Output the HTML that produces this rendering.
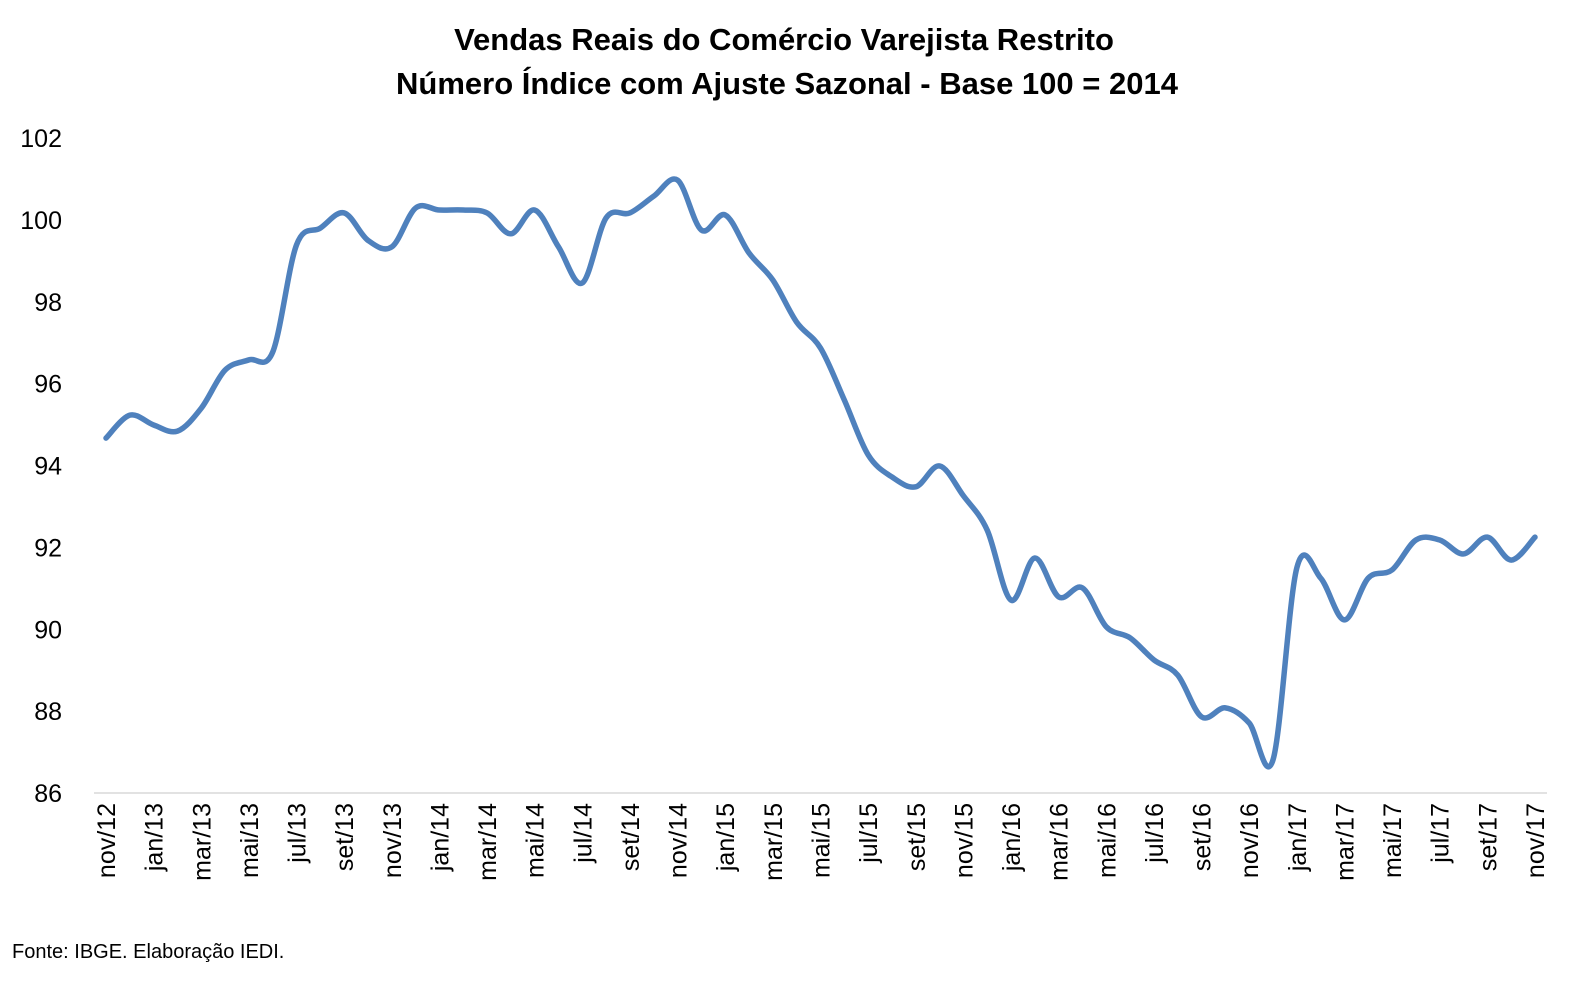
<!DOCTYPE html>
<html><head><meta charset="utf-8"><style>
body{margin:0;background:#fff;}
svg{display:block;font-family:"Liberation Sans",sans-serif;}
</style></head><body>
<svg id="chart" width="1582" height="986">
<text x="784" y="50" text-anchor="middle" font-size="31" font-weight="bold" fill="#000">Vendas Reais do Comércio Varejista Restrito</text>
<text x="787" y="94" text-anchor="middle" font-size="31" font-weight="bold" fill="#000">Número Índice com Ajuste Sazonal - Base 100 = 2014</text>
<g id="yaxis"></g>
<g id="xaxis"></g>
<line x1="94" y1="793" x2="1547" y2="793" stroke="#d9d9d9" stroke-width="1.5"/>
<path id="series" fill="none" stroke="#4f81bd" stroke-width="5.5" stroke-linecap="round" stroke-linejoin="round"/>
<text x="12" y="958" font-size="20" fill="#000">Fonte: IBGE. Elaboração IEDI.</text>
</svg>
<script>
const months = ["nov","dez","jan","fev","mar","abr","mai","jun","jul","ago","set","out"];
const values = [94.67,95.23,94.99,94.84,95.4,96.33,96.58,96.77,99.39,99.8,100.17,99.5,99.34,100.29,100.24,100.24,100.17,99.66,100.24,99.34,98.46,100.05,100.17,100.58,100.97,99.75,100.12,99.19,98.53,97.5,96.87,95.6,94.26,93.72,93.48,93.99,93.26,92.42,90.71,91.74,90.79,91.01,90.06,89.79,89.25,88.88,87.86,88.08,87.71,86.81,91.5,91.25,90.23,91.25,91.45,92.18,92.18,91.84,92.25,91.69,92.25];
const yTicks = [86,88,90,92,94,96,98,100,102];
const NS = "http://www.w3.org/2000/svg";
const x0 = 106, x1 = 1535, yTop = 138, yBot = 793, vMin = 86, vMax = 102;
function xs(i){ return x0 + (x1 - x0) * i / (values.length - 1); }
function ys(v){ return yBot - (v - vMin) / (vMax - vMin) * (yBot - yTop); }
function label(i){ const m = (10 + i) % 12; const yr = 12 + Math.floor((10 + i) / 12); return months[(m + 2) % 12] + "/" + yr; }
const yg = document.getElementById("yaxis");
yTicks.forEach(t => {
  const tx = document.createElementNS(NS, "text");
  tx.setAttribute("x", 62); tx.setAttribute("y", ys(t) + 9);
  tx.setAttribute("text-anchor", "end"); tx.setAttribute("font-size", "25");
  tx.textContent = t;
  
  
  yg.appendChild(tx);
});
const xg = document.getElementById("xaxis");
for (let i = 0; i < values.length; i += 2) {
  const tx = document.createElementNS(NS, "text");
  const x = xs(i) + 9, y = 803;
  tx.setAttribute("transform", "translate(" + x + "," + y + ") rotate(-90)");
  tx.setAttribute("text-anchor", "end"); tx.setAttribute("font-size", "25");
  tx.textContent = label(i);
  
  
  xg.appendChild(tx);
}
const pts = values.map((v, i) => [xs(i), ys(v)]);
let d = "M" + pts[0][0] + "," + pts[0][1];
for (let i = 0; i < pts.length - 1; i++) {
  const p0 = pts[Math.max(i - 1, 0)], p1 = pts[i], p2 = pts[i + 1], p3 = pts[Math.min(i + 2, pts.length - 1)];
  const k = 1 / 6;
  const c1 = [p1[0] + (p2[0] - p0[0]) * k, p1[1] + (p2[1] - p0[1]) * k];
  const c2 = [p2[0] - (p3[0] - p1[0]) * k, p2[1] - (p3[1] - p1[1]) * k];
  d += " C" + c1[0] + "," + c1[1] + " " + c2[0] + "," + c2[1] + " " + p2[0] + "," + p2[1];
}
document.getElementById("series").setAttribute("d", d);
</script>
</body></html>
